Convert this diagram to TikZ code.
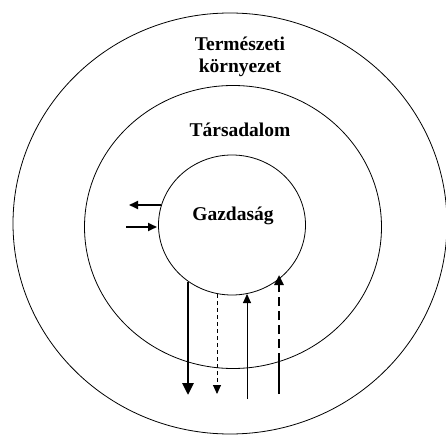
\documentclass[tikz,border=0pt]{standalone}
\usepackage{fontspec}
\setmainfont{Liberation Serif}
\usetikzlibrary{arrows.meta,shapes.geometric}
\begin{document}
\begin{tikzpicture}[x=1pt,y=-1pt,
  ring/.style={ellipse,draw,line width=0.8pt,inner sep=0pt,outer sep=0pt},
  lbl/.style={font=\fontsize{19.5}{22.5}\selectfont\bfseries,align=center,inner sep=0pt},
  thickarr/.style={line width=2.8pt,-{Triangle[length=12pt,width=11pt]}},
  thinarr/.style={line width=0.9pt,-{Triangle[length=9pt,width=8pt]}},
  medarr/.style={line width=1.8pt,-{Triangle[length=9pt,width=8pt]}}]
\useasboundingbox (0,0) rectangle (446,435);
\clip (0,0) rectangle (446,435);
\node[ring,minimum width=434pt,minimum height=421pt] (env) at (230,223.5) {};
\node[ring,minimum width=297pt,minimum height=283pt] (soc) at (233,227) {};
\node[ring,minimum width=147pt,minimum height=140pt] (eco) at (232,225) {};
\node[lbl] (tenv) at (240,57) {Természeti\\környezet};
\node[lbl] (tsoc) at (240,130) {Társadalom};
\node[lbl] (teco) at (233,216) {Gazdaság};
% horizontal arrows
\coordinate (h1s) at (161,205);
\coordinate (h1e) at (129,205);
\coordinate (h2s) at (126,227);
\coordinate (h2e) at (157,227);
\draw[medarr] (h1s) -- (h1e);
\draw[medarr] (h2s) -- (h2e);
% vertical arrows
\coordinate (a1s) at (188,282);
\coordinate (a1e) at (188,395);
\coordinate (a2s) at (217,294);
\coordinate (a2e) at (217,394);
\coordinate (a3s) at (247,399);
\coordinate (a3e) at (247,294);
\coordinate (a4s) at (279,394);
\coordinate (a4m) at (279,362);
\coordinate (a4e) at (279,275);
\draw[thickarr] (a1s) -- (a1e);
\draw[thinarr,dash pattern=on 4pt off 3pt] (a2s) -- (a2e);
\draw[thinarr] (a3s) -- (a3e);
\draw[line width=2.4pt] (a4s) -- (a4m);
\draw[line width=2.4pt,dash pattern=on 9pt off 5pt,-{Triangle[length=10pt,width=9pt]}] (a4m) -- (a4e);
\end{tikzpicture}
\end{document}
